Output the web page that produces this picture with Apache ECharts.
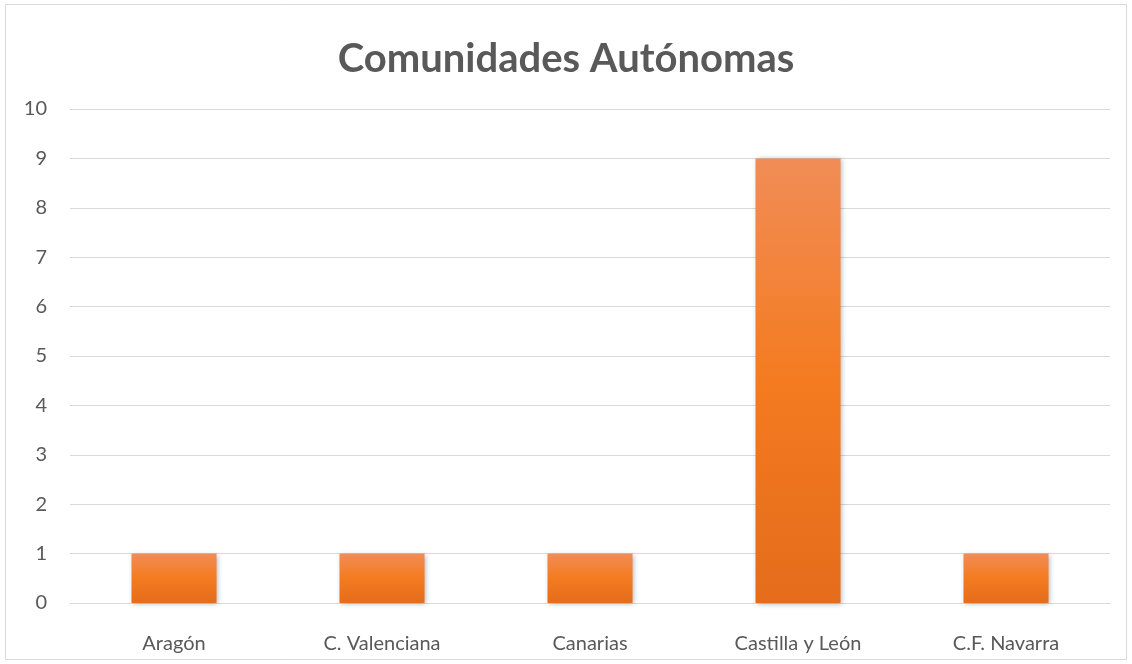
<!DOCTYPE html>
<html><head><meta charset="utf-8">
<script src="https://cdn.jsdelivr.net/npm/echarts@6/dist/echarts.min.js"></script>
<style>html,body{margin:0;padding:0;background:#fff}#c{width:1132px;height:664px}</style>
</head><body><div id="c"></div>
<script>
const titleText = "Comunidades Autónomas";
const categories = ["Aragón", "C. Valenciana", "Canarias", "Castilla y León", "C.F. Navarra"];
const values = [1, 1, 1, 9, 1];
const yTicks = [0, 10, 1];

const chart = echarts.init(document.getElementById('c'), null, {renderer:'canvas'});
chart.setOption({
  animation:false,
  backgroundColor:'#fff',
  graphic:[{type:'rect',shape:{x:5.5,y:4.5,width:1121,height:655},style:{fill:null,stroke:'#d9d9d9',lineWidth:1},silent:true}],
  title:{text:titleText,left:'center',top:34,textStyle:{fontFamily:'Lato',fontWeight:'bold',fontSize:40,color:'#595959'}},
  grid:{left:70,right:22,top:109,bottom:61,containLabel:false},
  xAxis:{type:'category',data:categories,
    axisLine:{lineStyle:{color:'#d9d9d9',width:1}},axisTick:{show:false},
    axisLabel:{color:'#595959',fontSize:20,fontFamily:'Lato',margin:31}},
  yAxis:{type:'value',min:yTicks[0],max:yTicks[1],interval:yTicks[2],
    axisLine:{show:false},axisTick:{show:false},
    splitLine:{lineStyle:{color:'#d9d9d9',width:1}},
    axisLabel:{color:'#595959',fontSize:20,fontFamily:'Lato',margin:23}},
  series:[{type:'bar',data:values,barWidth:85,
    itemStyle:{color:new echarts.graphic.LinearGradient(0,0,0,1,[
      {offset:0,color:'#F18D57'},{offset:0.5,color:'#F47B20'},{offset:1,color:'#E56C1B'}]),
      shadowBlur:5,shadowColor:'rgba(0,0,0,0.3)',shadowOffsetX:1,shadowOffsetY:1}}]
});
</script></body></html>
